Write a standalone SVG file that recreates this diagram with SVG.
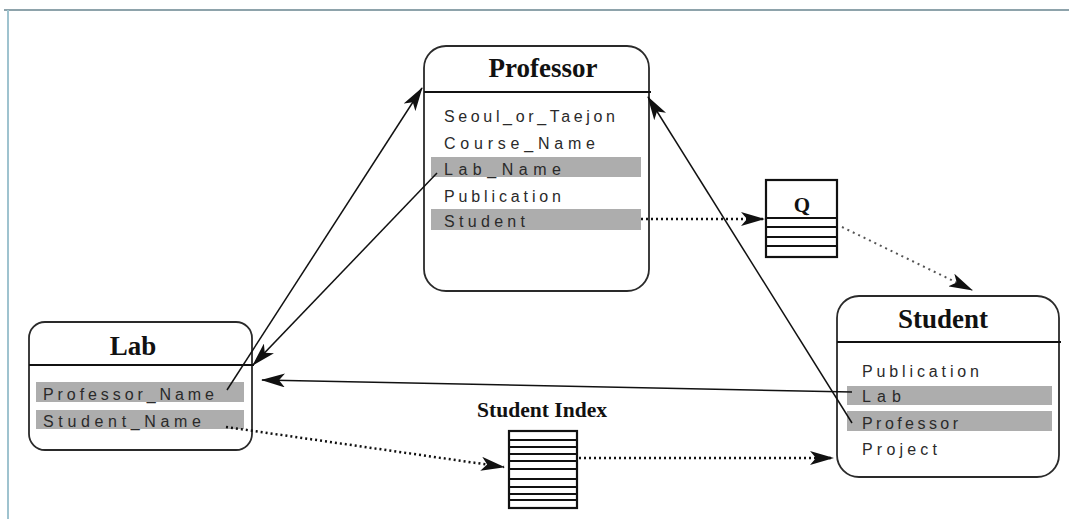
<svg xmlns="http://www.w3.org/2000/svg" width="1069" height="519" viewBox="0 0 1069 519">
<defs>
<style>
.box{fill:#fff;stroke:#2a2a2a;stroke-width:1.8}
.hdr{stroke:#111;stroke-width:2}
.title{font-family:"Liberation Serif","Times New Roman",serif;font-weight:bold;font-size:27px;fill:#111;text-anchor:middle}
.attr{font-family:"Liberation Sans",Arial,sans-serif;font-size:16px;fill:#2a2a2a}
.hl{fill:#adadad}
.solid{fill:none;stroke:#111;stroke-width:1.5}
.dot{fill:none;stroke:#111;stroke-width:2.5;stroke-dasharray:2 3}
.dotl{fill:none;stroke:#555;stroke-width:2;stroke-dasharray:2 4}
.idx{fill:#fff;stroke:#111;stroke-width:2.2}
.ln{stroke:#111;stroke-width:2}
</style>
<marker id="ah" viewBox="0 0 24 14" refX="23" refY="7" markerWidth="24" markerHeight="14" markerUnits="userSpaceOnUse" orient="auto">
<path d="M0,0 L24,7 L0,14 L6,7 z" fill="#111"/>
</marker>
</defs>
<rect width="1069" height="519" fill="#fff"/>
<line x1="4" y1="10" x2="1069" y2="10" stroke="#8ea3ab" stroke-width="2"/>
<line x1="8" y1="10" x2="8" y2="519" stroke="#9fc3cf" stroke-width="2"/>

<g id="professor">
<rect class="box" x="424" y="46" width="225" height="245" rx="22"/>
<line class="hdr" x1="424" y1="92" x2="651" y2="92"/>
<text class="title" x="543" y="77">Professor</text>
<rect class="hl" x="431" y="157" width="210" height="20"/>
<rect class="hl" x="431" y="209" width="210" height="21"/>
<text class="attr" x="444" y="122" textLength="171" lengthAdjust="spacing">Seoul_or_Taejon</text>
<text class="attr" x="444" y="149" textLength="151" lengthAdjust="spacing">Course_Name</text>
<text class="attr" x="444" y="175" textLength="117" lengthAdjust="spacing">Lab_Name</text>
<text class="attr" x="444" y="202" textLength="117" lengthAdjust="spacing">Publication</text>
<text class="attr" x="444" y="227" textLength="81" lengthAdjust="spacing">Student</text>
</g>

<g id="lab">
<rect class="box" x="29" y="322" width="223" height="128" rx="16"/>
<line class="hdr" x1="29" y1="365" x2="254" y2="365"/>
<text class="title" x="133" y="355">Lab</text>
<rect class="hl" x="36" y="382" width="208" height="20"/>
<rect class="hl" x="36" y="410" width="208" height="19"/>
<text class="attr" x="43" y="400" textLength="171" lengthAdjust="spacing">Professor_Name</text>
<text class="attr" x="43" y="427" textLength="158" lengthAdjust="spacing">Student_Name</text>
</g>

<g id="student">
<rect class="box" x="837" y="296" width="222" height="181" rx="22"/>
<line class="hdr" x1="837" y1="342" x2="1061" y2="342"/>
<text class="title" x="943" y="328">Student</text>
<rect class="hl" x="847" y="386" width="205" height="19"/>
<rect class="hl" x="847" y="411" width="205" height="20"/>
<text class="attr" x="862" y="377" textLength="117" lengthAdjust="spacing">Publication</text>
<text class="attr" x="862" y="402" textLength="39" lengthAdjust="spacing">Lab</text>
<text class="attr" x="862" y="429" textLength="96" lengthAdjust="spacing">Professor</text>
<text class="attr" x="862" y="455" textLength="75" lengthAdjust="spacing">Project</text>
</g>

<g id="q">
<rect class="idx" x="766" y="180" width="71" height="77"/>
<line class="ln" x1="766" y1="218" x2="837" y2="218"/>
<line class="ln" x1="766" y1="227" x2="837" y2="227"/>
<line class="ln" x1="766" y1="237" x2="837" y2="237"/>
<line class="ln" x1="766" y1="246" x2="837" y2="246"/>
<text class="title" x="802" y="212" style="font-size:21px">Q</text>
</g>

<g id="student-index">
<text class="title" x="542" y="417" style="font-size:21px" textLength="130" lengthAdjust="spacingAndGlyphs">Student Index</text>
<rect class="idx" x="509" y="431" width="68" height="77"/>
<line class="ln" x1="509" y1="440" x2="577" y2="440"/>
<line class="ln" x1="509" y1="447" x2="577" y2="447"/>
<line class="ln" x1="509" y1="454" x2="577" y2="454"/>
<line class="ln" x1="509" y1="461" x2="577" y2="461"/>
<line class="ln" x1="509" y1="469" x2="577" y2="469"/>
<line class="ln" x1="509" y1="479" x2="577" y2="479"/>
<line class="ln" x1="509" y1="487" x2="577" y2="487"/>
<line class="ln" x1="509" y1="494" x2="577" y2="494"/>
<line class="ln" x1="509" y1="500" x2="577" y2="500"/>
</g>

<g id="connectors">
<line class="solid" x1="227" y1="390" x2="422" y2="88" marker-end="url(#ah)"/>
<line class="solid" x1="437" y1="173" x2="253" y2="365" marker-end="url(#ah)"/>
<line class="solid" x1="852" y1="423" x2="648" y2="97" marker-end="url(#ah)"/>
<line class="solid" x1="852" y1="392" x2="262" y2="380" marker-end="url(#ah)"/>
<line class="dot" x1="226" y1="427" x2="504" y2="467" marker-end="url(#ah)"/>
<line class="dot" x1="579" y1="458" x2="833" y2="458" marker-end="url(#ah)"/>
<line class="dot" x1="641" y1="219" x2="764" y2="219" marker-end="url(#ah)"/>
<line class="dotl" x1="842" y1="227" x2="972" y2="290" marker-end="url(#ah)"/>
</g>
</svg>
